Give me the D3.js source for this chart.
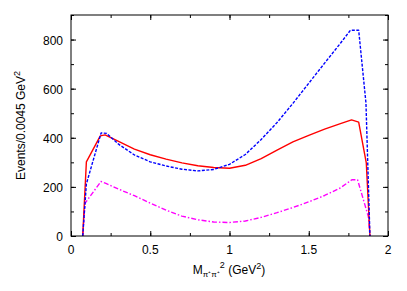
<!DOCTYPE html>
<html>
<head>
<meta charset="utf-8">
<script src="https://cdn.jsdelivr.net/npm/d3@7"></script>
<style>
  body { margin: 0; background: #fff; }
  text { font-family: "Liberation Sans", Arial, sans-serif; }
</style>
</head>
<body>
<div id="root"></div>
<script>
// Data
const redX = [0.074, 0.097, 0.185, 0.215, 0.3, 0.4, 0.5, 0.6, 0.7, 0.8, 0.9, 1.0, 1.1, 1.2, 1.3, 1.4, 1.5, 1.6, 1.7, 1.77, 1.815, 1.863, 1.886];
const redY = [0, 302, 408, 412, 385, 354, 331, 313, 298, 286, 279, 276, 288, 315, 350, 383, 410, 435, 458, 473, 464, 298, 0];

const blueX = [0.074, 0.097, 0.19, 0.225, 0.3, 0.4, 0.5, 0.6, 0.7, 0.8, 0.9, 1.0, 1.1, 1.2, 1.3, 1.4, 1.5, 1.6, 1.7, 1.763, 1.815, 1.861, 1.886];
const blueY = [0, 212, 420, 418, 374, 330, 302, 285, 272, 265, 271, 292, 332, 393, 462, 540, 622, 704, 785, 838, 838, 541, 0];

const magX = [0.074, 0.088, 0.189, 0.22, 0.3, 0.4, 0.5, 0.6, 0.7, 0.8, 0.9, 1.0, 1.1, 1.2, 1.3, 1.4, 1.5, 1.6, 1.7, 1.772, 1.808, 1.876, 1.886];
const magY = [0, 133, 222, 214, 191, 164, 134, 105, 81, 66, 57, 55, 61, 76, 95, 116, 139, 165, 196, 229, 229, 79, 0];

const xTicks = [0, 0.5, 1, 1.5, 2];
const yTicks = [0, 200, 400, 600, 800];

// Size of the chart
const width = 407;
const height = 291;
const margin = { left: 71, right: 19, top: 15, bottom: 55 };

const svg = d3
  .select("#root")
  .append("svg")
  .attr("width", width)
  .attr("height", height);

const xScale = d3
  .scaleLinear()
  .domain([0, 2])
  .range([margin.left, width - margin.right]);

const yScale = d3
  .scaleLinear()
  .domain([0, 900])
  .range([height - margin.bottom, margin.top]);

const x0 = xScale.range()[0], x1 = xScale.range()[1];
const y0 = yScale.range()[0], y1 = yScale.range()[1];

// Ticks on all four sides, pointing inward
const xMinor = d3.range(0, 2.001, 0.25);
const yMinor = d3.range(0, 901, 100);

function tickAxis(axis, ticks, size, transform) {
  svg
    .append("g")
    .attr("transform", transform)
    .call(axis.tickValues(ticks).tickSize(size).tickFormat(""))
    .call(g => g.select(".domain").remove())
    .call(g => g.selectAll("line").attr("stroke", "#000"));
}

tickAxis(d3.axisTop(xScale), xMinor, 3, "translate(0," + y0 + ")");
tickAxis(d3.axisTop(xScale), xTicks, 5, "translate(0," + y0 + ")");
tickAxis(d3.axisBottom(xScale), xMinor, 3, "translate(0," + y1 + ")");
tickAxis(d3.axisBottom(xScale), xTicks, 5, "translate(0," + y1 + ")");
tickAxis(d3.axisRight(yScale), yMinor, 3, "translate(" + x0 + ",0)");
tickAxis(d3.axisRight(yScale), yTicks, 5, "translate(" + x0 + ",0)");
tickAxis(d3.axisLeft(yScale), yMinor, 3, "translate(" + x1 + ",0)");
tickAxis(d3.axisLeft(yScale), yTicks, 5, "translate(" + x1 + ",0)");

// Tick labels
svg
  .append("g")
  .selectAll("text")
  .data(xTicks)
  .enter()
  .append("text")
  .attr("x", d => xScale(d))
  .attr("y", y0 + 18)
  .attr("text-anchor", "middle")
  .attr("font-size", 12)
  .text(d => d);

svg
  .append("g")
  .selectAll("text")
  .data(yTicks)
  .enter()
  .append("text")
  .attr("x", x0 - 8)
  .attr("y", d => yScale(d) + 5)
  .attr("text-anchor", "end")
  .attr("font-size", 12)
  .text(d => d);

// Lines
function createLine(xs, ys, color, dash) {
  const line = d3
    .line()
    .x((d, i) => xScale(xs[i]))
    .y(d => yScale(d));
  svg
    .append("path")
    .datum(ys)
    .attr("fill", "none")
    .attr("stroke", color)
    .attr("stroke-width", 1.4)
    .attr("stroke-linejoin", "round")
    .attr("stroke-dasharray", dash)
    .attr("d", line);
}

createLine(magX, magY, "#ff00ff", "5,2,1.5,2");
createLine(redX, redY, "#ff0000", null);
createLine(blueX, blueY, "#0000ff", "3,1.5");

// Frame
svg
  .append("rect")
  .attr("x", x0)
  .attr("y", y1)
  .attr("width", x1 - x0)
  .attr("height", y0 - y1)
  .attr("fill", "none")
  .attr("stroke", "#000")
  .attr("stroke-width", 1);

// Axis titles
const yTitle = svg
  .append("text")
  .attr("transform", "translate(25," + ((y0 + y1) / 2) + ") rotate(-90)")
  .attr("text-anchor", "middle")
  .attr("font-size", 12);
yTitle.append("tspan").text("Events/0.0045 GeV");
yTitle.append("tspan").attr("font-size", 9).attr("dy", -5).text("2");

const xTitle = svg
  .append("text")
  .attr("x", 229)
  .attr("y", 274)
  .attr("text-anchor", "middle")
  .attr("font-size", 12);
xTitle.append("tspan").text("M");
xTitle.append("tspan").attr("font-size", 8).attr("dy", 3).text("π⁺π⁺");
xTitle.append("tspan").attr("font-size", 9).attr("dy", -9).text("2");
xTitle.append("tspan").attr("dy", 6).text(" (GeV");
xTitle.append("tspan").attr("font-size", 9).attr("dy", -5).text("2");
xTitle.append("tspan").attr("dy", 5).text(")");
</script>
</body>
</html>
